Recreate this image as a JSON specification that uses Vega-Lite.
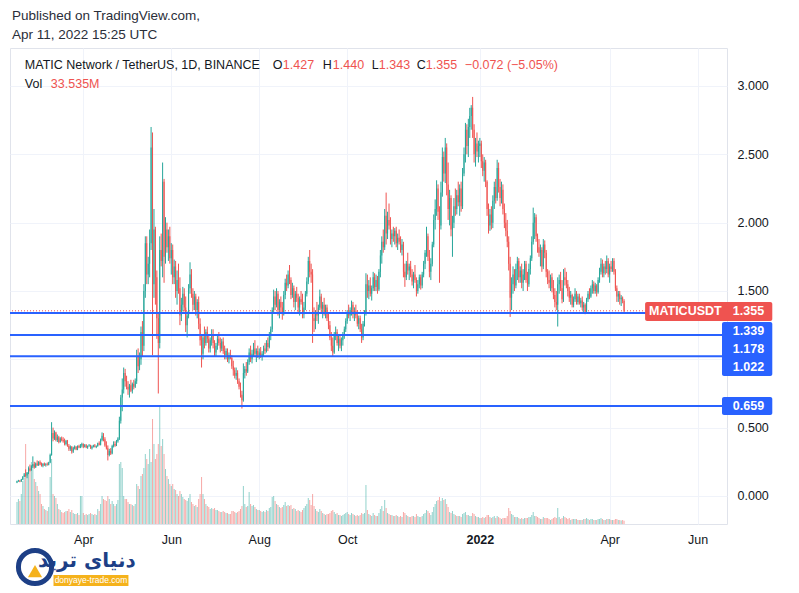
{
"$schema":"https://vega.github.io/schema/vega-lite/v6.json",
"width":717,"height":476,"autosize":"none",
"padding":{"left":10,"top":48,"right":72,"bottom":69},
"background":"white",
"title":{"text":["Published on TradingView.com,","Apr 11, 2022 15:25 UTC"],"anchor":"start","frame":"group","font":"Liberation Sans","fontSize":13.5,"fontWeight":"normal","color":"#2a2e39","lineHeight":19,"offset":7,"dx":2},
"datasets":{
"ohlc":[
{"t":"2021-02-14","o":0.098,"h":0.112,"l":0.094,"c":0.108,"v":220},
{"t":"2021-02-15","o":0.108,"h":0.118,"l":0.104,"c":0.112,"v":250},
{"t":"2021-02-16","o":0.112,"h":0.116,"l":0.101,"c":0.106,"v":230},
{"t":"2021-02-17","o":0.106,"h":0.125,"l":0.104,"c":0.121,"v":300},
{"t":"2021-02-18","o":0.121,"h":0.145,"l":0.118,"c":0.14,"v":430},
{"t":"2021-02-19","o":0.14,"h":0.168,"l":0.136,"c":0.158,"v":460},
{"t":"2021-02-20","o":0.158,"h":0.195,"l":0.14,"c":0.15,"v":800},
{"t":"2021-02-21","o":0.15,"h":0.175,"l":0.13,"c":0.168,"v":520},
{"t":"2021-02-22","o":0.168,"h":0.21,"l":0.16,"c":0.195,"v":580},
{"t":"2021-02-23","o":0.195,"h":0.23,"l":0.18,"c":0.188,"v":560},
{"t":"2021-02-24","o":0.188,"h":0.225,"l":0.185,"c":0.218,"v":620},
{"t":"2021-02-25","o":0.218,"h":0.29,"l":0.205,"c":0.232,"v":600},
{"t":"2021-02-26","o":0.232,"h":0.25,"l":0.2,"c":0.21,"v":450},
{"t":"2021-02-27","o":0.21,"h":0.245,"l":0.205,"c":0.238,"v":420},
{"t":"2021-02-28","o":0.238,"h":0.26,"l":0.22,"c":0.225,"v":380},
{"t":"2021-03-01","o":0.225,"h":0.255,"l":0.22,"c":0.248,"v":330},
{"t":"2021-03-02","o":0.248,"h":0.26,"l":0.225,"c":0.23,"v":300},
{"t":"2021-03-03","o":0.23,"h":0.245,"l":0.215,"c":0.222,"v":200},
{"t":"2021-03-04","o":0.222,"h":0.24,"l":0.21,"c":0.235,"v":180},
{"t":"2021-03-05","o":0.235,"h":0.245,"l":0.22,"c":0.226,"v":150},
{"t":"2021-03-06","o":0.226,"h":0.24,"l":0.215,"c":0.232,"v":140},
{"t":"2021-03-07","o":0.232,"h":0.245,"l":0.222,"c":0.228,"v":130},
{"t":"2021-03-08","o":0.228,"h":0.25,"l":0.224,"c":0.245,"v":170},
{"t":"2021-03-09","o":0.245,"h":0.31,"l":0.24,"c":0.3,"v":470},
{"t":"2021-03-10","o":0.3,"h":0.54,"l":0.295,"c":0.46,"v":650},
{"t":"2021-03-11","o":0.46,"h":0.5,"l":0.4,"c":0.42,"v":300},
{"t":"2021-03-12","o":0.42,"h":0.48,"l":0.41,"c":0.465,"v":280},
{"t":"2021-03-13","o":0.465,"h":0.47,"l":0.4,"c":0.41,"v":260},
{"t":"2021-03-14","o":0.41,"h":0.45,"l":0.395,"c":0.43,"v":200},
{"t":"2021-03-15","o":0.43,"h":0.44,"l":0.385,"c":0.395,"v":150},
{"t":"2021-03-16","o":0.395,"h":0.43,"l":0.39,"c":0.42,"v":140},
{"t":"2021-03-17","o":0.42,"h":0.435,"l":0.4,"c":0.41,"v":120},
{"t":"2021-03-18","o":0.41,"h":0.43,"l":0.39,"c":0.4,"v":110},
{"t":"2021-03-19","o":0.4,"h":0.42,"l":0.37,"c":0.38,"v":120},
{"t":"2021-03-20","o":0.38,"h":0.41,"l":0.37,"c":0.405,"v":130},
{"t":"2021-03-21","o":0.405,"h":0.41,"l":0.36,"c":0.365,"v":130},
{"t":"2021-03-22","o":0.365,"h":0.38,"l":0.33,"c":0.345,"v":150},
{"t":"2021-03-23","o":0.345,"h":0.37,"l":0.33,"c":0.36,"v":120},
{"t":"2021-03-24","o":0.36,"h":0.365,"l":0.31,"c":0.325,"v":140},
{"t":"2021-03-25","o":0.325,"h":0.36,"l":0.315,"c":0.35,"v":110},
{"t":"2021-03-26","o":0.35,"h":0.37,"l":0.34,"c":0.36,"v":100},
{"t":"2021-03-27","o":0.36,"h":0.365,"l":0.335,"c":0.34,"v":100},
{"t":"2021-03-28","o":0.34,"h":0.37,"l":0.335,"c":0.365,"v":110},
{"t":"2021-03-29","o":0.365,"h":0.375,"l":0.35,"c":0.355,"v":90},
{"t":"2021-03-30","o":0.355,"h":0.38,"l":0.35,"c":0.37,"v":280},
{"t":"2021-03-31","o":0.37,"h":0.39,"l":0.355,"c":0.38,"v":280},
{"t":"2021-04-01","o":0.38,"h":0.385,"l":0.35,"c":0.36,"v":110},
{"t":"2021-04-02","o":0.36,"h":0.38,"l":0.355,"c":0.372,"v":90},
{"t":"2021-04-03","o":0.372,"h":0.38,"l":0.35,"c":0.355,"v":100},
{"t":"2021-04-04","o":0.355,"h":0.37,"l":0.345,"c":0.365,"v":90},
{"t":"2021-04-05","o":0.365,"h":0.38,"l":0.36,"c":0.37,"v":100},
{"t":"2021-04-06","o":0.37,"h":0.375,"l":0.345,"c":0.35,"v":110},
{"t":"2021-04-07","o":0.35,"h":0.37,"l":0.34,"c":0.362,"v":100},
{"t":"2021-04-08","o":0.362,"h":0.375,"l":0.355,"c":0.37,"v":90},
{"t":"2021-04-09","o":0.37,"h":0.38,"l":0.355,"c":0.36,"v":100},
{"t":"2021-04-10","o":0.36,"h":0.37,"l":0.35,"c":0.365,"v":90},
{"t":"2021-04-11","o":0.365,"h":0.39,"l":0.36,"c":0.385,"v":150},
{"t":"2021-04-12","o":0.385,"h":0.4,"l":0.37,"c":0.375,"v":130},
{"t":"2021-04-13","o":0.375,"h":0.42,"l":0.37,"c":0.41,"v":200},
{"t":"2021-04-14","o":0.41,"h":0.465,"l":0.4,"c":0.44,"v":280},
{"t":"2021-04-15","o":0.44,"h":0.46,"l":0.4,"c":0.415,"v":250},
{"t":"2021-04-16","o":0.415,"h":0.43,"l":0.36,"c":0.37,"v":240},
{"t":"2021-04-17","o":0.37,"h":0.4,"l":0.34,"c":0.35,"v":230},
{"t":"2021-04-18","o":0.35,"h":0.37,"l":0.26,"c":0.3,"v":280},
{"t":"2021-04-19","o":0.3,"h":0.345,"l":0.29,"c":0.33,"v":250},
{"t":"2021-04-20","o":0.33,"h":0.35,"l":0.3,"c":0.31,"v":200},
{"t":"2021-04-21","o":0.31,"h":0.375,"l":0.305,"c":0.365,"v":230},
{"t":"2021-04-22","o":0.365,"h":0.4,"l":0.355,"c":0.38,"v":200},
{"t":"2021-04-23","o":0.38,"h":0.4,"l":0.36,"c":0.37,"v":180},
{"t":"2021-04-24","o":0.37,"h":0.41,"l":0.365,"c":0.4,"v":200},
{"t":"2021-04-25","o":0.4,"h":0.43,"l":0.39,"c":0.42,"v":240},
{"t":"2021-04-26","o":0.42,"h":0.58,"l":0.41,"c":0.55,"v":600},
{"t":"2021-04-27","o":0.55,"h":0.74,"l":0.53,"c":0.72,"v":620},
{"t":"2021-04-28","o":0.72,"h":0.86,"l":0.62,"c":0.78,"v":560},
{"t":"2021-04-29","o":0.78,"h":0.94,"l":0.75,"c":0.9,"v":280},
{"t":"2021-04-30","o":0.9,"h":0.93,"l":0.8,"c":0.84,"v":250},
{"t":"2021-05-01","o":0.84,"h":0.88,"l":0.78,"c":0.8,"v":250},
{"t":"2021-05-02","o":0.8,"h":0.84,"l":0.74,"c":0.78,"v":220},
{"t":"2021-05-03","o":0.78,"h":0.82,"l":0.72,"c":0.81,"v":200},
{"t":"2021-05-04","o":0.81,"h":0.85,"l":0.76,"c":0.77,"v":200},
{"t":"2021-05-05","o":0.77,"h":0.83,"l":0.75,"c":0.82,"v":190},
{"t":"2021-05-06","o":0.82,"h":0.85,"l":0.78,"c":0.8,"v":180},
{"t":"2021-05-07","o":0.8,"h":0.86,"l":0.79,"c":0.84,"v":200},
{"t":"2021-05-08","o":0.84,"h":1.07,"l":0.82,"c":1.02,"v":400},
{"t":"2021-05-09","o":1.02,"h":1.08,"l":0.9,"c":0.95,"v":380},
{"t":"2021-05-10","o":0.95,"h":1.05,"l":0.92,"c":1.0,"v":350},
{"t":"2021-05-11","o":1.0,"h":1.24,"l":0.96,"c":1.2,"v":480},
{"t":"2021-05-12","o":1.2,"h":1.28,"l":1.02,"c":1.1,"v":500},
{"t":"2021-05-13","o":1.1,"h":1.55,"l":1.06,"c":1.5,"v":560},
{"t":"2021-05-14","o":1.5,"h":1.9,"l":1.45,"c":1.85,"v":700},
{"t":"2021-05-15","o":1.85,"h":1.9,"l":1.55,"c":1.62,"v":650},
{"t":"2021-05-16","o":1.62,"h":1.75,"l":1.55,"c":1.7,"v":600},
{"t":"2021-05-17","o":1.7,"h":1.95,"l":1.6,"c":1.85,"v":750},
{"t":"2021-05-18","o":1.85,"h":2.7,"l":1.8,"c":2.55,"v":620},
{"t":"2021-05-19","o":2.55,"h":2.66,"l":1.03,"c":1.55,"v":1050},
{"t":"2021-05-20","o":1.55,"h":2.1,"l":1.45,"c":1.95,"v":800},
{"t":"2021-05-21","o":1.95,"h":1.97,"l":1.4,"c":1.6,"v":650},
{"t":"2021-05-22","o":1.6,"h":1.65,"l":1.15,"c":1.3,"v":700},
{"t":"2021-05-23","o":1.3,"h":1.34,"l":0.75,"c":1.12,"v":800},
{"t":"2021-05-24","o":1.12,"h":1.9,"l":1.08,"c":1.8,"v":1180},
{"t":"2021-05-25","o":1.8,"h":1.92,"l":1.68,"c":1.72,"v":780},
{"t":"2021-05-26","o":1.72,"h":2.44,"l":1.6,"c":2.3,"v":850},
{"t":"2021-05-27","o":2.3,"h":2.32,"l":1.56,"c":1.75,"v":700},
{"t":"2021-05-28","o":1.75,"h":2.04,"l":1.7,"c":1.95,"v":550},
{"t":"2021-05-29","o":1.95,"h":2.0,"l":1.78,"c":1.82,"v":480},
{"t":"2021-05-30","o":1.82,"h":1.95,"l":1.72,"c":1.9,"v":450},
{"t":"2021-05-31","o":1.9,"h":1.97,"l":1.7,"c":1.74,"v":400},
{"t":"2021-06-01","o":1.74,"h":1.85,"l":1.62,"c":1.8,"v":380},
{"t":"2021-06-02","o":1.8,"h":1.84,"l":1.55,"c":1.6,"v":400},
{"t":"2021-06-03","o":1.6,"h":1.73,"l":1.55,"c":1.68,"v":350},
{"t":"2021-06-04","o":1.68,"h":1.72,"l":1.45,"c":1.5,"v":340},
{"t":"2021-06-05","o":1.5,"h":1.65,"l":1.4,"c":1.58,"v":300},
{"t":"2021-06-06","o":1.58,"h":1.7,"l":1.48,"c":1.52,"v":280},
{"t":"2021-06-07","o":1.52,"h":1.6,"l":1.25,"c":1.32,"v":330},
{"t":"2021-06-08","o":1.32,"h":1.45,"l":1.28,"c":1.4,"v":300},
{"t":"2021-06-09","o":1.4,"h":1.53,"l":1.35,"c":1.48,"v":270},
{"t":"2021-06-10","o":1.48,"h":1.52,"l":1.35,"c":1.38,"v":250},
{"t":"2021-06-11","o":1.38,"h":1.46,"l":1.2,"c":1.25,"v":240},
{"t":"2021-06-12","o":1.25,"h":1.35,"l":1.16,"c":1.32,"v":230},
{"t":"2021-06-13","o":1.32,"h":1.55,"l":1.3,"c":1.52,"v":260},
{"t":"2021-06-14","o":1.52,"h":1.71,"l":1.48,"c":1.62,"v":300},
{"t":"2021-06-15","o":1.62,"h":1.66,"l":1.45,"c":1.48,"v":220},
{"t":"2021-06-16","o":1.48,"h":1.52,"l":1.36,"c":1.4,"v":200},
{"t":"2021-06-17","o":1.4,"h":1.5,"l":1.36,"c":1.46,"v":180},
{"t":"2021-06-18","o":1.46,"h":1.48,"l":1.32,"c":1.36,"v":190},
{"t":"2021-06-19","o":1.36,"h":1.44,"l":1.3,"c":1.42,"v":170},
{"t":"2021-06-20","o":1.42,"h":1.46,"l":1.22,"c":1.26,"v":250},
{"t":"2021-06-21","o":1.26,"h":1.3,"l":1.1,"c":1.14,"v":300},
{"t":"2021-06-22","o":1.14,"h":1.18,"l":0.94,"c":1.04,"v":470},
{"t":"2021-06-23","o":1.04,"h":1.18,"l":1.0,"c":1.16,"v":300},
{"t":"2021-06-24","o":1.16,"h":1.24,"l":1.08,"c":1.12,"v":250},
{"t":"2021-06-25","o":1.12,"h":1.22,"l":1.1,"c":1.2,"v":200},
{"t":"2021-06-26","o":1.2,"h":1.24,"l":1.12,"c":1.15,"v":180},
{"t":"2021-06-27","o":1.15,"h":1.18,"l":1.05,"c":1.08,"v":170},
{"t":"2021-06-28","o":1.08,"h":1.16,"l":1.05,"c":1.14,"v":150},
{"t":"2021-06-29","o":1.14,"h":1.22,"l":1.1,"c":1.18,"v":160},
{"t":"2021-06-30","o":1.18,"h":1.22,"l":1.08,"c":1.12,"v":150},
{"t":"2021-07-01","o":1.12,"h":1.14,"l":1.02,"c":1.05,"v":160},
{"t":"2021-07-02","o":1.05,"h":1.12,"l":1.02,"c":1.1,"v":140},
{"t":"2021-07-03","o":1.1,"h":1.18,"l":1.07,"c":1.15,"v":140},
{"t":"2021-07-04","o":1.15,"h":1.2,"l":1.1,"c":1.12,"v":130},
{"t":"2021-07-05","o":1.12,"h":1.16,"l":1.05,"c":1.08,"v":120},
{"t":"2021-07-06","o":1.08,"h":1.15,"l":1.06,"c":1.13,"v":120},
{"t":"2021-07-07","o":1.13,"h":1.16,"l":1.04,"c":1.06,"v":130},
{"t":"2021-07-08","o":1.06,"h":1.1,"l":1.0,"c":1.03,"v":120},
{"t":"2021-07-09","o":1.03,"h":1.08,"l":1.0,"c":1.06,"v":110},
{"t":"2021-07-10","o":1.06,"h":1.08,"l":0.98,"c":1.0,"v":110},
{"t":"2021-07-11","o":1.0,"h":1.05,"l":0.97,"c":1.03,"v":100},
{"t":"2021-07-12","o":1.03,"h":1.07,"l":1.0,"c":1.01,"v":100},
{"t":"2021-07-13","o":1.01,"h":1.03,"l":0.93,"c":0.95,"v":130},
{"t":"2021-07-14","o":0.95,"h":0.99,"l":0.88,"c":0.92,"v":130},
{"t":"2021-07-15","o":0.92,"h":0.94,"l":0.86,"c":0.88,"v":120},
{"t":"2021-07-16","o":0.88,"h":0.94,"l":0.85,"c":0.9,"v":110},
{"t":"2021-07-17","o":0.9,"h":0.92,"l":0.82,"c":0.84,"v":120},
{"t":"2021-07-18","o":0.84,"h":0.86,"l":0.78,"c":0.8,"v":130},
{"t":"2021-07-19","o":0.8,"h":0.83,"l":0.72,"c":0.74,"v":150},
{"t":"2021-07-20","o":0.74,"h":0.77,"l":0.64,"c":0.7,"v":180},
{"t":"2021-07-21","o":0.7,"h":0.97,"l":0.69,"c":0.9,"v":380},
{"t":"2021-07-22","o":0.9,"h":0.95,"l":0.86,"c":0.93,"v":200},
{"t":"2021-07-23","o":0.93,"h":0.98,"l":0.88,"c":0.91,"v":170},
{"t":"2021-07-24","o":0.91,"h":1.0,"l":0.9,"c":0.98,"v":180},
{"t":"2021-07-25","o":0.98,"h":1.08,"l":0.96,"c":1.05,"v":320},
{"t":"2021-07-26","o":1.05,"h":1.1,"l":0.98,"c":1.0,"v":200},
{"t":"2021-07-27","o":1.0,"h":1.07,"l":0.97,"c":1.04,"v":180},
{"t":"2021-07-28","o":1.04,"h":1.12,"l":1.02,"c":1.08,"v":190},
{"t":"2021-07-29","o":1.08,"h":1.14,"l":1.02,"c":1.04,"v":170},
{"t":"2021-07-30","o":1.04,"h":1.08,"l":0.98,"c":1.06,"v":150},
{"t":"2021-07-31","o":1.06,"h":1.1,"l":1.01,"c":1.03,"v":140},
{"t":"2021-08-01","o":1.03,"h":1.08,"l":1.0,"c":1.05,"v":140},
{"t":"2021-08-02","o":1.05,"h":1.09,"l":1.01,"c":1.02,"v":130},
{"t":"2021-08-03","o":1.02,"h":1.06,"l":0.99,"c":1.04,"v":120},
{"t":"2021-08-04","o":1.04,"h":1.1,"l":1.02,"c":1.08,"v":130},
{"t":"2021-08-05","o":1.08,"h":1.12,"l":1.04,"c":1.06,"v":120},
{"t":"2021-08-06","o":1.06,"h":1.14,"l":1.05,"c":1.12,"v":140},
{"t":"2021-08-07","o":1.12,"h":1.16,"l":1.06,"c":1.09,"v":130},
{"t":"2021-08-08","o":1.09,"h":1.2,"l":1.08,"c":1.18,"v":160},
{"t":"2021-08-09","o":1.18,"h":1.24,"l":1.14,"c":1.22,"v":170},
{"t":"2021-08-10","o":1.22,"h":1.38,"l":1.2,"c":1.36,"v":270},
{"t":"2021-08-11","o":1.36,"h":1.51,"l":1.34,"c":1.46,"v":280},
{"t":"2021-08-12","o":1.46,"h":1.5,"l":1.36,"c":1.4,"v":230},
{"t":"2021-08-13","o":1.4,"h":1.52,"l":1.38,"c":1.48,"v":200},
{"t":"2021-08-14","o":1.48,"h":1.5,"l":1.32,"c":1.36,"v":190},
{"t":"2021-08-15","o":1.36,"h":1.44,"l":1.3,"c":1.42,"v":170},
{"t":"2021-08-16","o":1.42,"h":1.46,"l":1.34,"c":1.38,"v":160},
{"t":"2021-08-17","o":1.38,"h":1.42,"l":1.29,"c":1.33,"v":170},
{"t":"2021-08-18","o":1.33,"h":1.5,"l":1.32,"c":1.47,"v":190},
{"t":"2021-08-19","o":1.47,"h":1.59,"l":1.44,"c":1.56,"v":220},
{"t":"2021-08-20","o":1.56,"h":1.62,"l":1.5,"c":1.54,"v":180},
{"t":"2021-08-21","o":1.54,"h":1.65,"l":1.52,"c":1.62,"v":190},
{"t":"2021-08-22","o":1.62,"h":1.69,"l":1.55,"c":1.58,"v":180},
{"t":"2021-08-23","o":1.58,"h":1.6,"l":1.44,"c":1.47,"v":190},
{"t":"2021-08-24","o":1.47,"h":1.56,"l":1.45,"c":1.52,"v":150},
{"t":"2021-08-25","o":1.52,"h":1.54,"l":1.38,"c":1.42,"v":160},
{"t":"2021-08-26","o":1.42,"h":1.5,"l":1.36,"c":1.48,"v":150},
{"t":"2021-08-27","o":1.48,"h":1.53,"l":1.42,"c":1.45,"v":130},
{"t":"2021-08-28","o":1.45,"h":1.48,"l":1.34,"c":1.38,"v":140},
{"t":"2021-08-29","o":1.38,"h":1.46,"l":1.32,"c":1.44,"v":130},
{"t":"2021-08-30","o":1.44,"h":1.5,"l":1.4,"c":1.42,"v":120},
{"t":"2021-08-31","o":1.42,"h":1.48,"l":1.3,"c":1.33,"v":140},
{"t":"2021-09-01","o":1.33,"h":1.42,"l":1.3,"c":1.38,"v":160},
{"t":"2021-09-02","o":1.38,"h":1.5,"l":1.36,"c":1.48,"v":180},
{"t":"2021-09-03","o":1.48,"h":1.6,"l":1.46,"c":1.57,"v":200},
{"t":"2021-09-04","o":1.57,"h":1.75,"l":1.55,"c":1.72,"v":260},
{"t":"2021-09-05","o":1.72,"h":1.8,"l":1.6,"c":1.64,"v":240},
{"t":"2021-09-06","o":1.64,"h":1.7,"l":1.56,"c":1.62,"v":190},
{"t":"2021-09-07","o":1.62,"h":1.66,"l":1.12,"c":1.3,"v":300},
{"t":"2021-09-08","o":1.3,"h":1.38,"l":1.2,"c":1.28,"v":180},
{"t":"2021-09-09","o":1.28,"h":1.36,"l":1.22,"c":1.34,"v":150},
{"t":"2021-09-10","o":1.34,"h":1.42,"l":1.28,"c":1.32,"v":130},
{"t":"2021-09-11","o":1.32,"h":1.4,"l":1.26,"c":1.38,"v":120},
{"t":"2021-09-12","o":1.38,"h":1.51,"l":1.36,"c":1.46,"v":150},
{"t":"2021-09-13","o":1.46,"h":1.48,"l":1.34,"c":1.37,"v":130},
{"t":"2021-09-14","o":1.37,"h":1.42,"l":1.3,"c":1.4,"v":110},
{"t":"2021-09-15","o":1.4,"h":1.45,"l":1.32,"c":1.34,"v":100},
{"t":"2021-09-16","o":1.34,"h":1.4,"l":1.3,"c":1.38,"v":90},
{"t":"2021-09-17","o":1.38,"h":1.4,"l":1.28,"c":1.3,"v":100},
{"t":"2021-09-18","o":1.3,"h":1.34,"l":1.22,"c":1.25,"v":100},
{"t":"2021-09-19","o":1.25,"h":1.28,"l":1.14,"c":1.16,"v":110},
{"t":"2021-09-20","o":1.16,"h":1.2,"l":1.06,"c":1.1,"v":130},
{"t":"2021-09-21","o":1.1,"h":1.16,"l":1.02,"c":1.05,"v":140},
{"t":"2021-09-22","o":1.05,"h":1.2,"l":1.04,"c":1.18,"v":120},
{"t":"2021-09-23","o":1.18,"h":1.24,"l":1.14,"c":1.2,"v":100},
{"t":"2021-09-24","o":1.2,"h":1.22,"l":1.1,"c":1.12,"v":110},
{"t":"2021-09-25","o":1.12,"h":1.18,"l":1.06,"c":1.15,"v":90},
{"t":"2021-09-26","o":1.15,"h":1.17,"l":1.08,"c":1.1,"v":90},
{"t":"2021-09-27","o":1.1,"h":1.16,"l":1.06,"c":1.14,"v":80},
{"t":"2021-09-28","o":1.14,"h":1.2,"l":1.1,"c":1.18,"v":90},
{"t":"2021-09-29","o":1.18,"h":1.24,"l":1.15,"c":1.22,"v":100},
{"t":"2021-09-30","o":1.22,"h":1.3,"l":1.2,"c":1.28,"v":110},
{"t":"2021-10-01","o":1.28,"h":1.36,"l":1.26,"c":1.34,"v":120},
{"t":"2021-10-02","o":1.34,"h":1.4,"l":1.3,"c":1.32,"v":100},
{"t":"2021-10-03","o":1.32,"h":1.38,"l":1.28,"c":1.36,"v":90},
{"t":"2021-10-04","o":1.36,"h":1.43,"l":1.32,"c":1.4,"v":110},
{"t":"2021-10-05","o":1.4,"h":1.42,"l":1.3,"c":1.33,"v":100},
{"t":"2021-10-06","o":1.33,"h":1.38,"l":1.28,"c":1.35,"v":90},
{"t":"2021-10-07","o":1.35,"h":1.4,"l":1.3,"c":1.32,"v":80},
{"t":"2021-10-08","o":1.32,"h":1.36,"l":1.24,"c":1.26,"v":90},
{"t":"2021-10-09","o":1.26,"h":1.32,"l":1.22,"c":1.3,"v":80},
{"t":"2021-10-10","o":1.3,"h":1.32,"l":1.2,"c":1.22,"v":90},
{"t":"2021-10-11","o":1.22,"h":1.26,"l":1.12,"c":1.16,"v":110},
{"t":"2021-10-12","o":1.16,"h":1.28,"l":1.14,"c":1.26,"v":100},
{"t":"2021-10-13","o":1.26,"h":1.36,"l":1.24,"c":1.34,"v":110},
{"t":"2021-10-14","o":1.34,"h":1.63,"l":1.32,"c":1.55,"v":390},
{"t":"2021-10-15","o":1.55,"h":1.62,"l":1.45,"c":1.5,"v":140},
{"t":"2021-10-16","o":1.5,"h":1.58,"l":1.44,"c":1.54,"v":100},
{"t":"2021-10-17","o":1.54,"h":1.6,"l":1.46,"c":1.48,"v":90},
{"t":"2021-10-18","o":1.48,"h":1.54,"l":1.43,"c":1.52,"v":80},
{"t":"2021-10-19","o":1.52,"h":1.64,"l":1.5,"c":1.6,"v":110},
{"t":"2021-10-20","o":1.6,"h":1.63,"l":1.5,"c":1.53,"v":90},
{"t":"2021-10-21","o":1.53,"h":1.62,"l":1.5,"c":1.58,"v":80},
{"t":"2021-10-22","o":1.58,"h":1.61,"l":1.48,"c":1.51,"v":80},
{"t":"2021-10-23","o":1.51,"h":1.66,"l":1.5,"c":1.64,"v":110},
{"t":"2021-10-24","o":1.64,"h":1.8,"l":1.6,"c":1.76,"v":150},
{"t":"2021-10-25","o":1.76,"h":1.9,"l":1.7,"c":1.86,"v":180},
{"t":"2021-10-26","o":1.86,"h":1.95,"l":1.78,"c":1.82,"v":130},
{"t":"2021-10-27","o":1.82,"h":2.1,"l":1.8,"c":2.05,"v":240},
{"t":"2021-10-28","o":2.05,"h":2.22,"l":1.84,"c":1.92,"v":160},
{"t":"2021-10-29","o":1.92,"h":2.08,"l":1.88,"c":2.02,"v":110},
{"t":"2021-10-30","o":2.02,"h":2.14,"l":1.95,"c":1.98,"v":100},
{"t":"2021-10-31","o":1.98,"h":2.04,"l":1.84,"c":1.88,"v":90},
{"t":"2021-11-01","o":1.88,"h":1.95,"l":1.82,"c":1.92,"v":90},
{"t":"2021-11-02","o":1.92,"h":1.97,"l":1.86,"c":1.9,"v":80},
{"t":"2021-11-03","o":1.9,"h":1.96,"l":1.84,"c":1.94,"v":80},
{"t":"2021-11-04","o":1.94,"h":1.97,"l":1.82,"c":1.85,"v":90},
{"t":"2021-11-05","o":1.85,"h":1.92,"l":1.8,"c":1.89,"v":80},
{"t":"2021-11-06","o":1.89,"h":1.95,"l":1.84,"c":1.86,"v":70},
{"t":"2021-11-07","o":1.86,"h":1.9,"l":1.78,"c":1.8,"v":80},
{"t":"2021-11-08","o":1.8,"h":1.88,"l":1.76,"c":1.84,"v":70},
{"t":"2021-11-09","o":1.84,"h":1.86,"l":1.6,"c":1.64,"v":120},
{"t":"2021-11-10","o":1.64,"h":1.7,"l":1.53,"c":1.6,"v":110},
{"t":"2021-11-11","o":1.6,"h":1.72,"l":1.58,"c":1.7,"v":90},
{"t":"2021-11-12","o":1.7,"h":1.78,"l":1.62,"c":1.65,"v":80},
{"t":"2021-11-13","o":1.65,"h":1.7,"l":1.58,"c":1.68,"v":70},
{"t":"2021-11-14","o":1.68,"h":1.72,"l":1.6,"c":1.62,"v":70},
{"t":"2021-11-15","o":1.62,"h":1.66,"l":1.54,"c":1.57,"v":80},
{"t":"2021-11-16","o":1.57,"h":1.64,"l":1.52,"c":1.62,"v":80},
{"t":"2021-11-17","o":1.62,"h":1.69,"l":1.56,"c":1.58,"v":70},
{"t":"2021-11-18","o":1.58,"h":1.6,"l":1.46,"c":1.5,"v":100},
{"t":"2021-11-19","o":1.5,"h":1.58,"l":1.48,"c":1.55,"v":80},
{"t":"2021-11-20","o":1.55,"h":1.62,"l":1.52,"c":1.6,"v":70},
{"t":"2021-11-21","o":1.6,"h":1.62,"l":1.51,"c":1.54,"v":70},
{"t":"2021-11-22","o":1.54,"h":1.64,"l":1.52,"c":1.62,"v":80},
{"t":"2021-11-23","o":1.62,"h":1.72,"l":1.6,"c":1.7,"v":100},
{"t":"2021-11-24","o":1.7,"h":1.8,"l":1.66,"c":1.78,"v":110},
{"t":"2021-11-25","o":1.78,"h":1.97,"l":1.75,"c":1.9,"v":140},
{"t":"2021-11-26","o":1.9,"h":1.92,"l":1.72,"c":1.75,"v":130},
{"t":"2021-11-27","o":1.75,"h":1.8,"l":1.6,"c":1.64,"v":110},
{"t":"2021-11-28","o":1.64,"h":1.74,"l":1.58,"c":1.7,"v":90},
{"t":"2021-11-29","o":1.7,"h":1.86,"l":1.68,"c":1.84,"v":120},
{"t":"2021-11-30","o":1.84,"h":2.06,"l":1.82,"c":2.02,"v":170},
{"t":"2021-12-01","o":2.02,"h":2.17,"l":1.95,"c":2.1,"v":200},
{"t":"2021-12-02","o":2.1,"h":2.31,"l":2.05,"c":2.25,"v":230},
{"t":"2021-12-03","o":2.25,"h":2.28,"l":2.02,"c":2.08,"v":240},
{"t":"2021-12-04","o":2.08,"h":2.12,"l":1.56,"c":1.98,"v":270},
{"t":"2021-12-05","o":1.98,"h":2.3,"l":1.95,"c":2.22,"v":230},
{"t":"2021-12-06","o":2.22,"h":2.55,"l":2.19,"c":2.48,"v":260},
{"t":"2021-12-07","o":2.48,"h":2.52,"l":2.3,"c":2.36,"v":240},
{"t":"2021-12-08","o":2.36,"h":2.62,"l":2.29,"c":2.55,"v":250},
{"t":"2021-12-09","o":2.55,"h":2.58,"l":2.2,"c":2.28,"v":200},
{"t":"2021-12-10","o":2.28,"h":2.44,"l":2.02,"c":2.1,"v":170},
{"t":"2021-12-11","o":2.1,"h":2.24,"l":1.98,"c":2.18,"v":120},
{"t":"2021-12-12","o":2.18,"h":2.2,"l":1.9,"c":1.95,"v":110},
{"t":"2021-12-13","o":1.95,"h":2.05,"l":1.75,"c":2.0,"v":130},
{"t":"2021-12-14","o":2.0,"h":2.18,"l":1.96,"c":2.12,"v":100},
{"t":"2021-12-15","o":2.12,"h":2.25,"l":2.05,"c":2.1,"v":90},
{"t":"2021-12-16","o":2.1,"h":2.24,"l":2.06,"c":2.2,"v":80},
{"t":"2021-12-17","o":2.2,"h":2.3,"l":2.12,"c":2.15,"v":80},
{"t":"2021-12-18","o":2.15,"h":2.28,"l":2.05,"c":2.25,"v":80},
{"t":"2021-12-19","o":2.25,"h":2.3,"l":2.08,"c":2.12,"v":70},
{"t":"2021-12-20","o":2.12,"h":2.4,"l":2.1,"c":2.36,"v":100},
{"t":"2021-12-21","o":2.36,"h":2.55,"l":2.34,"c":2.5,"v":110},
{"t":"2021-12-22","o":2.5,"h":2.73,"l":2.44,"c":2.68,"v":120},
{"t":"2021-12-23","o":2.68,"h":2.72,"l":2.5,"c":2.56,"v":90},
{"t":"2021-12-24","o":2.56,"h":2.76,"l":2.48,"c":2.7,"v":90},
{"t":"2021-12-25","o":2.7,"h":2.84,"l":2.62,"c":2.78,"v":80},
{"t":"2021-12-26","o":2.78,"h":2.86,"l":2.68,"c":2.84,"v":80},
{"t":"2021-12-27","o":2.84,"h":2.92,"l":2.62,"c":2.68,"v":110},
{"t":"2021-12-28","o":2.68,"h":2.72,"l":2.44,"c":2.5,"v":100},
{"t":"2021-12-29","o":2.5,"h":2.62,"l":2.41,"c":2.58,"v":80},
{"t":"2021-12-30","o":2.58,"h":2.66,"l":2.48,"c":2.52,"v":70},
{"t":"2021-12-31","o":2.52,"h":2.6,"l":2.44,"c":2.56,"v":70},
{"t":"2022-01-01","o":2.56,"h":2.62,"l":2.48,"c":2.58,"v":60},
{"t":"2022-01-02","o":2.58,"h":2.6,"l":2.4,"c":2.45,"v":60},
{"t":"2022-01-03","o":2.45,"h":2.5,"l":2.34,"c":2.38,"v":70},
{"t":"2022-01-04","o":2.38,"h":2.48,"l":2.3,"c":2.44,"v":60},
{"t":"2022-01-05","o":2.44,"h":2.46,"l":2.26,"c":2.3,"v":70},
{"t":"2022-01-06","o":2.3,"h":2.31,"l":2.05,"c":2.1,"v":90},
{"t":"2022-01-07","o":2.1,"h":2.14,"l":1.92,"c":1.98,"v":90},
{"t":"2022-01-08","o":1.98,"h":2.1,"l":1.94,"c":2.06,"v":70},
{"t":"2022-01-09","o":2.06,"h":2.12,"l":1.95,"c":2.0,"v":60},
{"t":"2022-01-10","o":2.0,"h":2.2,"l":1.96,"c":2.16,"v":70},
{"t":"2022-01-11","o":2.16,"h":2.3,"l":2.1,"c":2.26,"v":80},
{"t":"2022-01-12","o":2.26,"h":2.32,"l":2.14,"c":2.18,"v":60},
{"t":"2022-01-13","o":2.18,"h":2.46,"l":2.16,"c":2.4,"v":80},
{"t":"2022-01-14","o":2.4,"h":2.44,"l":2.22,"c":2.26,"v":70},
{"t":"2022-01-15","o":2.26,"h":2.32,"l":2.12,"c":2.18,"v":60},
{"t":"2022-01-16","o":2.18,"h":2.3,"l":2.14,"c":2.24,"v":50},
{"t":"2022-01-17","o":2.24,"h":2.28,"l":2.06,"c":2.1,"v":60},
{"t":"2022-01-18","o":2.1,"h":2.14,"l":1.96,"c":2.0,"v":60},
{"t":"2022-01-19","o":2.0,"h":2.07,"l":1.9,"c":1.94,"v":60},
{"t":"2022-01-20","o":1.94,"h":2.02,"l":1.82,"c":1.86,"v":80},
{"t":"2022-01-21","o":1.86,"h":1.9,"l":1.65,"c":1.7,"v":160},
{"t":"2022-01-22","o":1.7,"h":1.75,"l":1.31,"c":1.45,"v":130},
{"t":"2022-01-23","o":1.45,"h":1.6,"l":1.36,"c":1.55,"v":100},
{"t":"2022-01-24","o":1.55,"h":1.68,"l":1.48,"c":1.62,"v":90},
{"t":"2022-01-25","o":1.62,"h":1.66,"l":1.5,"c":1.54,"v":70},
{"t":"2022-01-26","o":1.54,"h":1.7,"l":1.52,"c":1.66,"v":70},
{"t":"2022-01-27","o":1.66,"h":1.75,"l":1.58,"c":1.72,"v":70},
{"t":"2022-01-28","o":1.72,"h":1.74,"l":1.56,"c":1.6,"v":60},
{"t":"2022-01-29","o":1.6,"h":1.68,"l":1.56,"c":1.65,"v":50},
{"t":"2022-01-30","o":1.65,"h":1.7,"l":1.52,"c":1.56,"v":60},
{"t":"2022-01-31","o":1.56,"h":1.66,"l":1.5,"c":1.62,"v":50},
{"t":"2022-02-01","o":1.62,"h":1.72,"l":1.58,"c":1.7,"v":60},
{"t":"2022-02-02","o":1.7,"h":1.72,"l":1.56,"c":1.58,"v":60},
{"t":"2022-02-03","o":1.58,"h":1.64,"l":1.5,"c":1.55,"v":60},
{"t":"2022-02-04","o":1.55,"h":1.7,"l":1.53,"c":1.66,"v":70},
{"t":"2022-02-05","o":1.66,"h":1.76,"l":1.62,"c":1.74,"v":70},
{"t":"2022-02-06","o":1.74,"h":1.9,"l":1.72,"c":1.86,"v":90},
{"t":"2022-02-07","o":1.86,"h":2.11,"l":1.84,"c":2.0,"v":120},
{"t":"2022-02-08","o":2.0,"h":2.07,"l":1.88,"c":2.04,"v":80},
{"t":"2022-02-09","o":2.04,"h":2.06,"l":1.86,"c":1.9,"v":80},
{"t":"2022-02-10","o":1.9,"h":1.92,"l":1.78,"c":1.82,"v":70},
{"t":"2022-02-11","o":1.82,"h":1.88,"l":1.75,"c":1.78,"v":60},
{"t":"2022-02-12","o":1.78,"h":1.84,"l":1.68,"c":1.8,"v":50},
{"t":"2022-02-13","o":1.8,"h":1.82,"l":1.64,"c":1.68,"v":50},
{"t":"2022-02-14","o":1.68,"h":1.88,"l":1.66,"c":1.84,"v":70},
{"t":"2022-02-15","o":1.84,"h":1.87,"l":1.74,"c":1.78,"v":60},
{"t":"2022-02-16","o":1.78,"h":1.8,"l":1.6,"c":1.64,"v":60},
{"t":"2022-02-17","o":1.64,"h":1.66,"l":1.55,"c":1.58,"v":60},
{"t":"2022-02-18","o":1.58,"h":1.65,"l":1.52,"c":1.56,"v":50},
{"t":"2022-02-19","o":1.56,"h":1.62,"l":1.5,"c":1.6,"v":40},
{"t":"2022-02-20","o":1.6,"h":1.63,"l":1.49,"c":1.52,"v":50},
{"t":"2022-02-21","o":1.52,"h":1.58,"l":1.44,"c":1.47,"v":60},
{"t":"2022-02-22","o":1.47,"h":1.52,"l":1.38,"c":1.42,"v":70},
{"t":"2022-02-23","o":1.42,"h":1.5,"l":1.36,"c":1.4,"v":60},
{"t":"2022-02-24","o":1.4,"h":1.6,"l":1.24,"c":1.55,"v":160},
{"t":"2022-02-25","o":1.55,"h":1.62,"l":1.48,"c":1.58,"v":70},
{"t":"2022-02-26","o":1.58,"h":1.64,"l":1.5,"c":1.52,"v":50},
{"t":"2022-02-27","o":1.52,"h":1.58,"l":1.41,"c":1.44,"v":60},
{"t":"2022-02-28","o":1.44,"h":1.66,"l":1.42,"c":1.6,"v":80},
{"t":"2022-03-01","o":1.6,"h":1.67,"l":1.54,"c":1.58,"v":70},
{"t":"2022-03-02","o":1.58,"h":1.64,"l":1.52,"c":1.55,"v":60},
{"t":"2022-03-03","o":1.55,"h":1.58,"l":1.46,"c":1.5,"v":50},
{"t":"2022-03-04","o":1.5,"h":1.53,"l":1.42,"c":1.45,"v":60},
{"t":"2022-03-05","o":1.45,"h":1.5,"l":1.4,"c":1.47,"v":40},
{"t":"2022-03-06","o":1.47,"h":1.48,"l":1.38,"c":1.4,"v":50},
{"t":"2022-03-07","o":1.4,"h":1.46,"l":1.38,"c":1.44,"v":50},
{"t":"2022-03-08","o":1.44,"h":1.52,"l":1.42,"c":1.48,"v":50},
{"t":"2022-03-09","o":1.48,"h":1.5,"l":1.4,"c":1.42,"v":50},
{"t":"2022-03-10","o":1.42,"h":1.48,"l":1.4,"c":1.46,"v":40},
{"t":"2022-03-11","o":1.46,"h":1.48,"l":1.4,"c":1.41,"v":40},
{"t":"2022-03-12","o":1.41,"h":1.45,"l":1.38,"c":1.43,"v":40},
{"t":"2022-03-13","o":1.43,"h":1.46,"l":1.36,"c":1.38,"v":40},
{"t":"2022-03-14","o":1.38,"h":1.42,"l":1.34,"c":1.4,"v":50},
{"t":"2022-03-15","o":1.4,"h":1.41,"l":1.33,"c":1.35,"v":50},
{"t":"2022-03-16","o":1.35,"h":1.45,"l":1.34,"c":1.44,"v":60},
{"t":"2022-03-17","o":1.44,"h":1.5,"l":1.42,"c":1.48,"v":50},
{"t":"2022-03-18","o":1.48,"h":1.52,"l":1.44,"c":1.46,"v":40},
{"t":"2022-03-19","o":1.46,"h":1.54,"l":1.45,"c":1.52,"v":50},
{"t":"2022-03-20","o":1.52,"h":1.58,"l":1.48,"c":1.55,"v":50},
{"t":"2022-03-21","o":1.55,"h":1.57,"l":1.48,"c":1.5,"v":40},
{"t":"2022-03-22","o":1.5,"h":1.56,"l":1.48,"c":1.54,"v":40},
{"t":"2022-03-23","o":1.54,"h":1.55,"l":1.46,"c":1.49,"v":40},
{"t":"2022-03-24","o":1.49,"h":1.6,"l":1.48,"c":1.58,"v":50},
{"t":"2022-03-25","o":1.58,"h":1.67,"l":1.56,"c":1.64,"v":50},
{"t":"2022-03-26","o":1.64,"h":1.74,"l":1.62,"c":1.7,"v":60},
{"t":"2022-03-27","o":1.7,"h":1.73,"l":1.6,"c":1.63,"v":50},
{"t":"2022-03-28","o":1.63,"h":1.7,"l":1.6,"c":1.68,"v":40},
{"t":"2022-03-29","o":1.68,"h":1.72,"l":1.62,"c":1.66,"v":40},
{"t":"2022-03-30","o":1.66,"h":1.76,"l":1.63,"c":1.72,"v":50},
{"t":"2022-03-31","o":1.72,"h":1.74,"l":1.6,"c":1.62,"v":50},
{"t":"2022-04-01","o":1.62,"h":1.7,"l":1.56,"c":1.68,"v":50},
{"t":"2022-04-02","o":1.68,"h":1.72,"l":1.64,"c":1.66,"v":40},
{"t":"2022-04-03","o":1.66,"h":1.74,"l":1.64,"c":1.72,"v":40},
{"t":"2022-04-04","o":1.72,"h":1.74,"l":1.62,"c":1.64,"v":40},
{"t":"2022-04-05","o":1.64,"h":1.66,"l":1.5,"c":1.52,"v":50},
{"t":"2022-04-06","o":1.52,"h":1.54,"l":1.42,"c":1.46,"v":50},
{"t":"2022-04-07","o":1.46,"h":1.5,"l":1.42,"c":1.48,"v":40},
{"t":"2022-04-08","o":1.48,"h":1.5,"l":1.4,"c":1.44,"v":40},
{"t":"2022-04-09","o":1.44,"h":1.47,"l":1.39,"c":1.45,"v":35},
{"t":"2022-04-10","o":1.45,"h":1.46,"l":1.41,"c":1.427,"v":40},
{"t":"2022-04-11","o":1.427,"h":1.44,"l":1.343,"c":1.355,"v":33.535}
],
"levels":[{"lvl":1.339},{"lvl":1.178},{"lvl":1.022},{"lvl":0.659}]
},
"resolve":{"scale":{"y":"independent"}},
"layer":[
{"data":{"name":"ohlc"},
 "mark":{"type":"bar","width":1,"orient":"vertical"},
 "encoding":{
  "x":{"field":"t","type":"temporal",
   "scale":{"type":"utc","domain":[{"year":2021,"month":2,"date":12,"hours":15,"utc":true},{"year":2022,"month":6,"date":17,"hours":22,"utc":true}],"nice":false},
   "axis":{"title":null,"values":[{"year":2021,"month":4,"date":1,"utc":true},{"year":2021,"month":6,"date":1,"utc":true},{"year":2021,"month":8,"date":1,"utc":true},{"year":2021,"month":10,"date":1,"utc":true},{"year":2022,"month":1,"date":1,"utc":true},{"year":2022,"month":4,"date":1,"utc":true},{"year":2022,"month":6,"date":1,"utc":true}],
    "labelExpr":"utcmonth(datum.value) === 0 ? utcFormat(datum.value, '%Y') : utcFormat(datum.value, '%b')",
    "labelFontWeight":{"condition":{"test":"utcmonth(datum.value) === 0","value":"bold"},"value":"normal"},
    "grid":true,"gridColor":"#f0f3fa","domain":false,"ticks":false,"labelPadding":9,"labelFontSize":12.5,"labelColor":"#131722","labelFont":"Liberation Sans"}},
  "y":{"field":"v","type":"quantitative","scale":{"domain":[0,4760],"nice":false},"axis":null},
  "color":{"condition":{"test":"datum.c >= datum.o","value":"rgba(38,166,154,0.5)"},"value":"rgba(239,83,80,0.5)"}
 }},
{"layer":[
 {"data":{"name":"ohlc"},
  "mark":{"type":"rule","strokeWidth":1},
  "encoding":{
   "x":{"field":"t","type":"temporal","scale":{"type":"utc","domain":[{"year":2021,"month":2,"date":12,"hours":15,"utc":true},{"year":2022,"month":6,"date":17,"hours":22,"utc":true}],"nice":false}},
   "y":{"field":"l","type":"quantitative","scale":{"domain":[-0.205,3.278],"nice":false,"zero":false},
    "axis":{"orient":"right","title":null,"values":[0,0.5,1,1.5,2,2.5,3],"labelExpr":"datum.value === 1 ? '' : format(datum.value, '.3f')","grid":true,"gridColor":"#f0f3fa","domain":false,"ticks":false,"labelPadding":10,"labelFontSize":12.5,"labelColor":"#131722","labelFont":"Liberation Sans"}},
   "y2":{"field":"h"},
   "color":{"condition":{"test":"datum.c >= datum.o","value":"#26a69a"},"value":"#ef5350"}
  }},
 {"data":{"name":"ohlc"},
  "mark":{"type":"bar","width":1,"orient":"vertical"},
  "encoding":{
   "x":{"field":"t","type":"temporal"},
   "y":{"field":"o","type":"quantitative"},
   "y2":{"field":"c"},
   "color":{"condition":{"test":"datum.c >= datum.o","value":"#26a69a"},"value":"#ef5350"}
  }},
 {"data":{"name":"levels"},
  "mark":{"type":"rule","color":"#2962ff","strokeWidth":2},
  "encoding":{"y":{"field":"lvl","type":"quantitative"}}},
 {"data":{"values":[{"p":1.355}]},
  "mark":{"type":"rule","color":"#ef5350","strokeWidth":1,"strokeDash":[1,2]},
  "encoding":{"y":{"field":"p","type":"quantitative"}}},
 {"data":{"values":[{}]},"mark":{"type":"rect","color":"#ef5350","cornerRadius":2},
  "encoding":{"x":{"datum":{"year":2022,"month":4,"date":25,"hours":14,"utc":true},"type":"temporal"},"x2":{"datum":{"year":2022,"month":7,"date":22,"hours":19,"utc":true}},"y":{"datum":1.4195,"type":"quantitative"},"y2":{"datum":1.2805}}},
 {"data":{"values":[{}]},"mark":{"type":"rect","color":"#2962ff","cornerRadius":2},
  "encoding":{"x":{"datum":{"year":2022,"month":6,"date":17,"hours":22,"utc":true},"type":"temporal"},"x2":{"datum":{"year":2022,"month":7,"date":22,"hours":19,"utc":true}},"y":{"datum":1.2732,"type":"quantitative"},"y2":{"datum":0.878}}},
 {"data":{"values":[{}]},"mark":{"type":"rect","color":"#2962ff","cornerRadius":2},
  "encoding":{"x":{"datum":{"year":2022,"month":6,"date":17,"hours":22,"utc":true},"type":"temporal"},"x2":{"datum":{"year":2022,"month":7,"date":22,"hours":19,"utc":true}},"y":{"datum":0.7244,"type":"quantitative"},"y2":{"datum":0.5927}}},
 {"data":{"values":[{}]},"mark":{"type":"text","align":"left","baseline":"middle","font":"Liberation Sans","fontSize":12.5,"fontWeight":"bold","color":"white"},
  "encoding":{"x":{"datum":{"year":2022,"month":4,"date":28,"hours":7,"utc":true},"type":"temporal"},"y":{"datum":1.35,"type":"quantitative"},"text":{"value":"MATICUSDT"}}},
 {"data":{"values":[{}]},"mark":{"type":"text","align":"left","baseline":"middle","font":"Liberation Sans","fontSize":12.5,"fontWeight":"bold","color":"white"},
  "encoding":{"x":{"datum":{"year":2022,"month":6,"date":25,"hours":10,"utc":true},"type":"temporal"},"y":{"datum":1.35,"type":"quantitative"},"text":{"value":"1.355"}}},
 {"data":{"values":[{}]},"mark":{"type":"text","align":"left","baseline":"middle","font":"Liberation Sans","fontSize":12.5,"fontWeight":"bold","color":"white"},
  "encoding":{"x":{"datum":{"year":2022,"month":6,"date":25,"hours":10,"utc":true},"type":"temporal"},"y":{"datum":1.2073,"type":"quantitative"},"text":{"value":"1.339"}}},
 {"data":{"values":[{}]},"mark":{"type":"text","align":"left","baseline":"middle","font":"Liberation Sans","fontSize":12.5,"fontWeight":"bold","color":"white"},
  "encoding":{"x":{"datum":{"year":2022,"month":6,"date":25,"hours":10,"utc":true},"type":"temporal"},"y":{"datum":1.0756,"type":"quantitative"},"text":{"value":"1.178"}}},
 {"data":{"values":[{}]},"mark":{"type":"text","align":"left","baseline":"middle","font":"Liberation Sans","fontSize":12.5,"fontWeight":"bold","color":"white"},
  "encoding":{"x":{"datum":{"year":2022,"month":6,"date":25,"hours":10,"utc":true},"type":"temporal"},"y":{"datum":0.9439,"type":"quantitative"},"text":{"value":"1.022"}}},
 {"data":{"values":[{}]},"mark":{"type":"text","align":"left","baseline":"middle","font":"Liberation Sans","fontSize":12.5,"fontWeight":"bold","color":"white"},
  "encoding":{"x":{"datum":{"year":2022,"month":6,"date":25,"hours":10,"utc":true},"type":"temporal"},"y":{"datum":0.6585,"type":"quantitative"},"text":{"value":"0.659"}}},
 {"data":{"values":[{}]},"mark":{"type":"text","align":"left","baseline":"middle","font":"Liberation Sans","fontSize":12.5,"color":"#131722","dx":0},
  "encoding":{"x":{"datum":{"year":2021,"month":2,"date":19,"hours":11,"utc":true},"type":"temporal"},"y":{"datum":3.154,"type":"quantitative"},"text":{"value":"MATIC Network / TetherUS, 1D, BINANCE"}}},
 {"data":{"values":[{}]},"mark":{"type":"text","align":"left","baseline":"middle","font":"Liberation Sans","fontSize":12.5,"color":"#131722","dx":248},
  "encoding":{"x":{"datum":{"year":2021,"month":2,"date":19,"hours":11,"utc":true},"type":"temporal"},"y":{"datum":3.154,"type":"quantitative"},"text":{"value":"O"}}},
 {"data":{"values":[{}]},"mark":{"type":"text","align":"left","baseline":"middle","font":"Liberation Sans","fontSize":12.5,"color":"#ef5350","dx":258},
  "encoding":{"x":{"datum":{"year":2021,"month":2,"date":19,"hours":11,"utc":true},"type":"temporal"},"y":{"datum":3.154,"type":"quantitative"},"text":{"value":"1.427"}}},
 {"data":{"values":[{}]},"mark":{"type":"text","align":"left","baseline":"middle","font":"Liberation Sans","fontSize":12.5,"color":"#131722","dx":298},
  "encoding":{"x":{"datum":{"year":2021,"month":2,"date":19,"hours":11,"utc":true},"type":"temporal"},"y":{"datum":3.154,"type":"quantitative"},"text":{"value":"H"}}},
 {"data":{"values":[{}]},"mark":{"type":"text","align":"left","baseline":"middle","font":"Liberation Sans","fontSize":12.5,"color":"#ef5350","dx":308},
  "encoding":{"x":{"datum":{"year":2021,"month":2,"date":19,"hours":11,"utc":true},"type":"temporal"},"y":{"datum":3.154,"type":"quantitative"},"text":{"value":"1.440"}}},
 {"data":{"values":[{}]},"mark":{"type":"text","align":"left","baseline":"middle","font":"Liberation Sans","fontSize":12.5,"color":"#131722","dx":347},
  "encoding":{"x":{"datum":{"year":2021,"month":2,"date":19,"hours":11,"utc":true},"type":"temporal"},"y":{"datum":3.154,"type":"quantitative"},"text":{"value":"L"}}},
 {"data":{"values":[{}]},"mark":{"type":"text","align":"left","baseline":"middle","font":"Liberation Sans","fontSize":12.5,"color":"#ef5350","dx":354},
  "encoding":{"x":{"datum":{"year":2021,"month":2,"date":19,"hours":11,"utc":true},"type":"temporal"},"y":{"datum":3.154,"type":"quantitative"},"text":{"value":"1.343"}}},
 {"data":{"values":[{}]},"mark":{"type":"text","align":"left","baseline":"middle","font":"Liberation Sans","fontSize":12.5,"color":"#131722","dx":392},
  "encoding":{"x":{"datum":{"year":2021,"month":2,"date":19,"hours":11,"utc":true},"type":"temporal"},"y":{"datum":3.154,"type":"quantitative"},"text":{"value":"C"}}},
 {"data":{"values":[{}]},"mark":{"type":"text","align":"left","baseline":"middle","font":"Liberation Sans","fontSize":12.5,"color":"#ef5350","dx":401},
  "encoding":{"x":{"datum":{"year":2021,"month":2,"date":19,"hours":11,"utc":true},"type":"temporal"},"y":{"datum":3.154,"type":"quantitative"},"text":{"value":"1.355"}}},
 {"data":{"values":[{}]},"mark":{"type":"text","align":"left","baseline":"middle","font":"Liberation Sans","fontSize":12.5,"color":"#ef5350","dx":440},
  "encoding":{"x":{"datum":{"year":2021,"month":2,"date":19,"hours":11,"utc":true},"type":"temporal"},"y":{"datum":3.154,"type":"quantitative"},"text":{"value":"−0.072 (−5.05%)"}}},
 {"data":{"values":[{}]},"mark":{"type":"text","align":"left","baseline":"middle","font":"Liberation Sans","fontSize":12.5,"color":"#131722","dx":0},
  "encoding":{"x":{"datum":{"year":2021,"month":2,"date":19,"hours":11,"utc":true},"type":"temporal"},"y":{"datum":3.018,"type":"quantitative"},"text":{"value":"Vol"}}},
 {"data":{"values":[{}]},"mark":{"type":"text","align":"left","baseline":"middle","font":"Liberation Sans","fontSize":12.5,"color":"#ef5350","dx":26},
  "encoding":{"x":{"datum":{"year":2021,"month":2,"date":19,"hours":11,"utc":true},"type":"temporal"},"y":{"datum":3.018,"type":"quantitative"},"text":{"value":"33.535M"}}},
 {"data":{"values":[{}]},"mark":{"type":"point","shape":"circle","size":1100,"filled":true,"fill":"white","stroke":"#1d3f86","strokeWidth":5,"opacity":1},
  "encoding":{"x":{"datum":{"year":2021,"month":2,"date":26,"hours":12,"utc":true},"type":"temporal"},"y":{"datum":-0.5195,"type":"quantitative"}}},
 {"data":{"values":[{}]},"mark":{"type":"point","shape":"triangle-up","size":200,"filled":true,"color":"#f5b21b","opacity":1},
  "encoding":{"x":{"datum":{"year":2021,"month":2,"date":26,"hours":12,"utc":true},"type":"temporal"},"y":{"datum":-0.55,"type":"quantitative"}}},
 {"data":{"values":[{}]},"mark":{"type":"text","align":"center","baseline":"middle","font":"DejaVu Sans","fontSize":20,"fontWeight":"bold","color":"#1d3f86"},
  "encoding":{"x":{"datum":{"year":2021,"month":4,"date":3,"hours":12,"utc":true},"type":"temporal"},"y":{"datum":-0.4756,"type":"quantitative"},"text":{"value":"دنیای ترید"}}},
 {"data":{"values":[{}]},"mark":{"type":"rect","color":"#f5b21b"},
  "encoding":{"x":{"datum":{"year":2021,"month":3,"date":11,"hours":8,"utc":true},"type":"temporal"},"x2":{"datum":{"year":2021,"month":5,"date":2,"hours":7,"utc":true}},"y":{"datum":-0.578,"type":"quantitative"},"y2":{"datum":-0.6585}}},
 {"data":{"values":[{}]},"mark":{"type":"text","align":"center","baseline":"middle","font":"Liberation Sans","fontSize":8.5,"color":"white"},
  "encoding":{"x":{"datum":{"year":2021,"month":4,"date":6,"hours":8,"utc":true},"type":"temporal"},"y":{"datum":-0.6183,"type":"quantitative"},"text":{"value":"donyaye-trade.com"}}}
]}
],
"config":{"view":{"stroke":"#e0e3eb","strokeWidth":1}}
}
